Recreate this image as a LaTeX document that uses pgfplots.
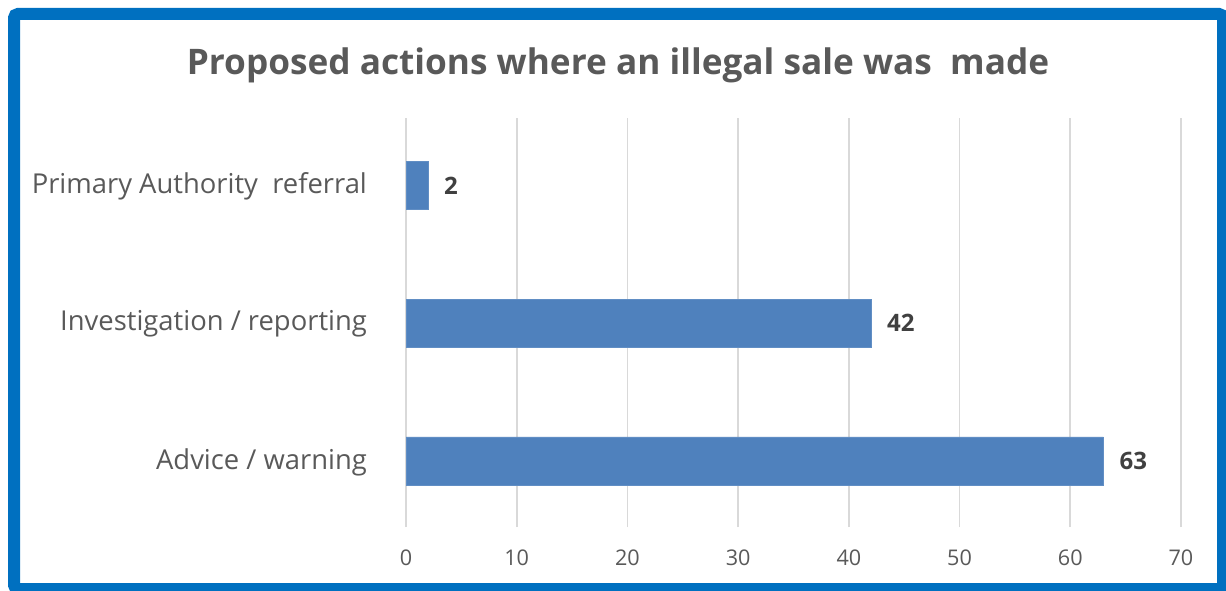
\documentclass[border=0pt]{standalone}
\usepackage{pgfplots}
\pgfplotsset{compat=1.18}
\usepackage{fontspec}
\setmainfont{Open Sans}
\definecolor{barblue}{HTML}{4F81BD}
\definecolor{frameblue}{HTML}{0070C0}
\definecolor{txtgray}{HTML}{595959}
\definecolor{lblgray}{HTML}{404040}
\definecolor{gridgray}{HTML}{D9D9D9}
\begin{document}
\begin{tikzpicture}[x=1pt,y=1pt]
\useasboundingbox (0,0) rectangle (613,295);
\draw[frameblue,line width=6pt,rounded corners=2pt] (7,0.5) rectangle (611.5,288);
\node[font=\bfseries\fontsize{17.6}{20}\selectfont,text=txtgray] at (309,262.5) {Proposed actions where an illegal sale was\ \ made};
\begin{axis}[
  at={(203pt,31.5pt)}, anchor=south west,
  scale only axis, width=387.5pt, height=204.5pt,
  xbar, bar width=24pt,
  xmin=0, xmax=70, ymin=-0.48, ymax=2.49,
  xtick={0,10,...,70},
  ytick={0,1,2},
  yticklabels={Advice / warning, Investigation / reporting, Primary Authority\ \ referral},
  axis line style={draw=none},
  major tick length=0pt,
  xmajorgrids, grid style={gridgray, line width=0.8pt},
  xticklabel style={font=\fontsize{10.8}{12}\selectfont, text=txtgray, yshift=-8pt},
  yticklabel style={font=\fontsize{13.7}{16}\selectfont, text=txtgray, xshift=-16pt, yshift=-0.5pt},
  /pgf/number format/assume math mode=true,
  nodes near coords,
  nodes near coords style={font=\bfseries\fontsize{12}{14}\selectfont, text=lblgray, anchor=west, xshift=4.5pt},
]
\addplot[fill=barblue, draw=barblue!90!white] coordinates {(63,0) (42,1) (2,2)};
\end{axis}
\end{tikzpicture}
\end{document}
